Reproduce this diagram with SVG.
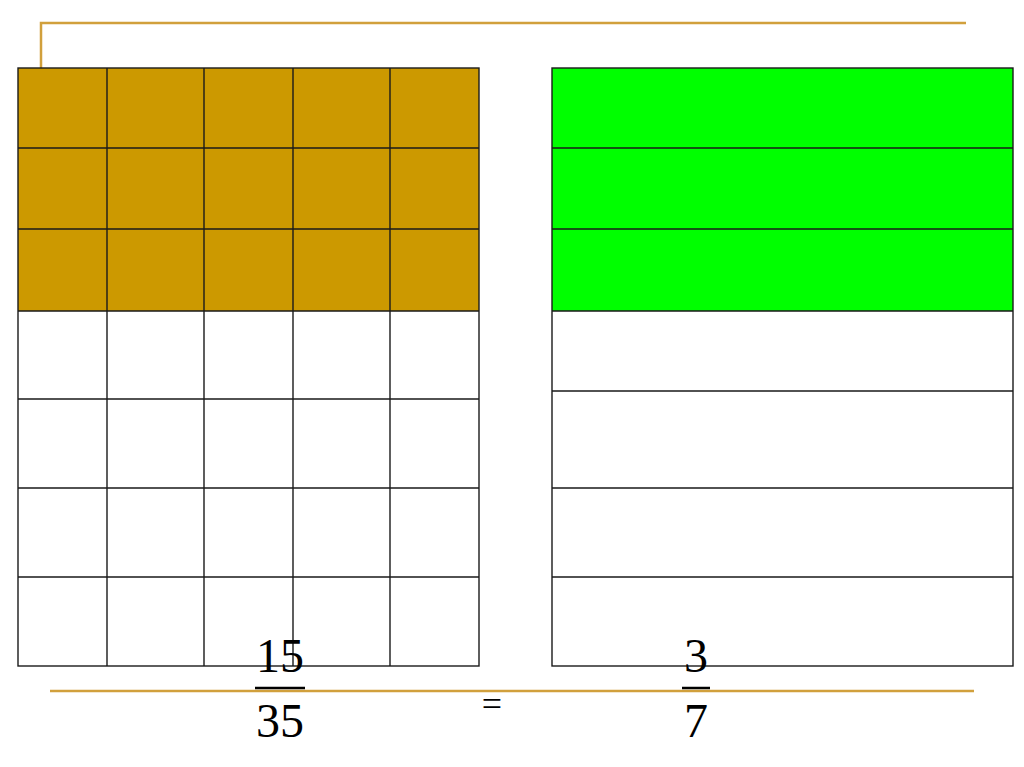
<svg xmlns="http://www.w3.org/2000/svg" width="1024" height="767" viewBox="0 0 1024 767">
<style>
.gl{stroke:#d1a03c;stroke-width:2.5;fill:none}
.gr{stroke:#1a1a1a;stroke-width:1.4;fill:none}
.t{font-family:"Liberation Serif",serif;fill:#000}
</style>
<rect width="1024" height="767" fill="#fff"/>
<g id="frame">
<polyline class="gl" points="41,68 41,23 966,23"/>
<line class="gl" x1="50" y1="691" x2="974" y2="691"/>
</g>
<g id="left-grid">
<rect x="18" y="68" width="461" height="243" fill="#cc9900"/>
<rect class="gr" x="18" y="68" width="461" height="598"/>
<path class="gr" d="M107,68V666M204,68V666M293,68V666M390,68V666M18,148H479M18,229H479M18,311H479M18,399H479M18,488H479M18,577H479"/>
</g>
<g id="right-grid">
<rect x="552" y="68" width="461" height="243" fill="#00ff00"/>
<rect class="gr" x="552" y="68" width="461" height="598"/>
<path class="gr" d="M552,148H1013M552,229H1013M552,311H1013M552,391H1013M552,488H1013M552,577H1013"/>
</g>
<g id="fraction-left">
<text class="t" x="280" y="672" font-size="48" text-anchor="middle">15</text>
<line x1="255" y1="688" x2="305" y2="688" stroke="#000" stroke-width="2.5"/>
<text class="t" x="280" y="737" font-size="48" text-anchor="middle">35</text>
</g>
<g id="equals">
<text class="t" x="492" y="716" font-size="36" text-anchor="middle">=</text>
</g>
<g id="fraction-right">
<text class="t" x="696" y="672" font-size="48" text-anchor="middle">3</text>
<line x1="682" y1="688" x2="710" y2="688" stroke="#000" stroke-width="2.5"/>
<text class="t" x="696" y="737" font-size="48" text-anchor="middle">7</text>
</g>
</svg>
